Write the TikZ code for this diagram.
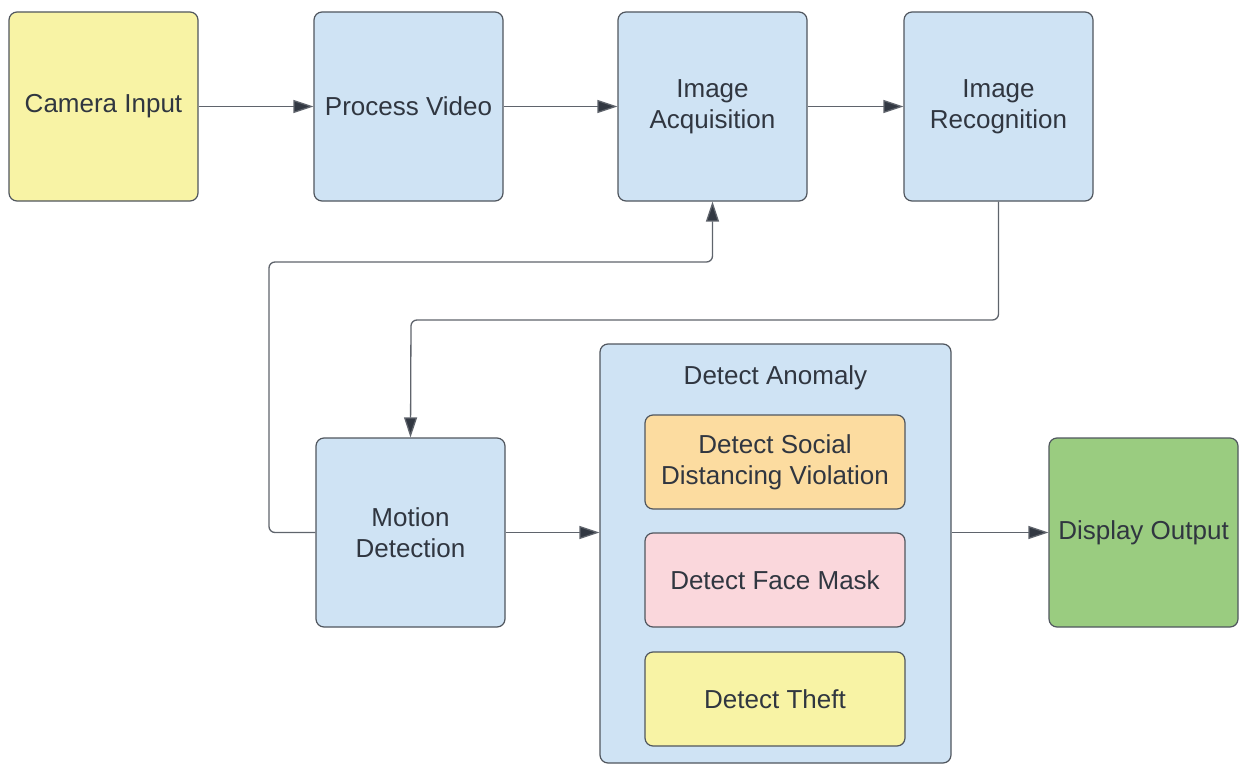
\documentclass[tikz,border=0pt]{standalone}
\usepackage{fontspec}
\setmainfont{Liberation Sans}
\usetikzlibrary{arrows.meta}
\definecolor{cyel}{RGB}{248,243,165}
\definecolor{cblue}{RGB}{207,227,244}
\definecolor{corange}{RGB}{252,220,160}
\definecolor{cpink}{RGB}{250,215,220}
\definecolor{cgreen}{RGB}{154,204,128}
\definecolor{cborder}{RGB}{80,86,94}
\definecolor{ctext}{RGB}{48,54,64}
\definecolor{cline}{RGB}{95,100,108}
\definecolor{chead}{RGB}{50,56,66}
\tikzset{
  blk/.style={draw=cborder, line width=1.2pt, rounded corners=8pt, minimum width=189pt, minimum height=189pt, inner sep=0pt, align=center, text=ctext, font=\fontsize{26}{31}\selectfont},
  sub/.style={blk, minimum width=260pt, minimum height=94pt},
  arr/.style={draw=cline, line width=1.3pt, rounded corners=6pt, -{Triangle[length=20pt,width=13pt,fill=chead]}},
}
\begin{document}
\begin{tikzpicture}[x=1pt,y=-1pt]
\useasboundingbox (0,0) rectangle (1239,765);
\node[blk, fill=cyel] (cam) at (103.5,106.5) {Camera Input};
\node[blk, fill=cblue] (pv) at (408.5,106.5) {Process Video};
\node[blk, fill=cblue] (ia) at (712.5,106.5) {Image\\Acquisition};
\node[blk, fill=cblue] (ir) at (998.5,106.5) {Image\\Recognition};
\node[blk, fill=cblue] (md) at (410.5,532.5) {Motion\\Detection};
\node[blk, fill=cblue, minimum width=351pt, minimum height=419pt] (da) at (775.5,553.5) {};
\node[text=ctext, font=\fontsize{26}{31}\selectfont] (dat) at (775.5,378) {Detect Anomaly};
\node[sub, fill=corange] (ds) at (775,462) {Detect Social\\Distancing Violation};
\node[sub, fill=cpink] (dfm) at (775,580) {Detect Face Mask};
\node[sub, fill=cyel] (dt) at (775,699) {Detect Theft};
\node[blk, fill=cgreen] (do) at (1143.5,532.5) {Display Output};
\coordinate (fbL) at (269,262);
\coordinate (fbR) at (411,320);
\draw[arr] (cam) -- (pv);
\draw[arr] (pv) -- (ia);
\draw[arr] (ia) -- (ir);
\draw[arr] (ir.south) |- (fbR) -- (md.north);
\draw[arr] (md.west) -| (fbL) -| (ia.south);
\draw[arr] (md.east) -- (da.west |- md.east);
\draw[arr] (da.east |- do.west) -- (do.west);
\end{tikzpicture}
\end{document}
